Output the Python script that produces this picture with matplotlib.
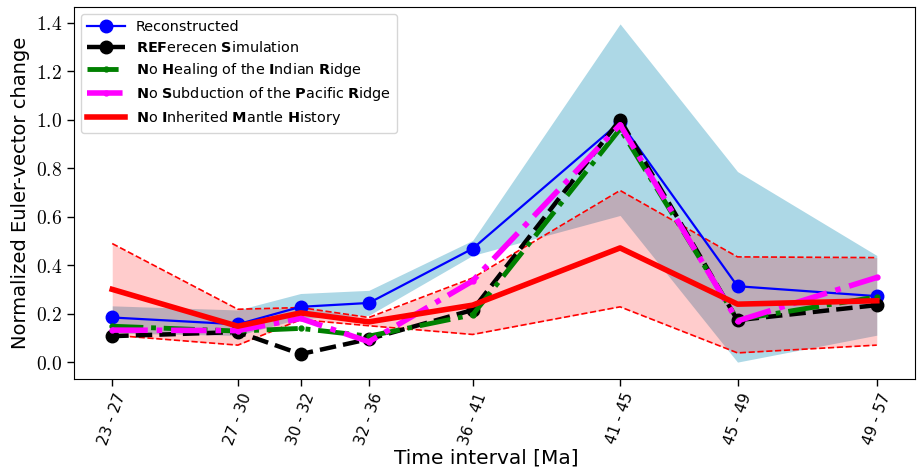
import matplotlib
matplotlib.use('Agg')
import matplotlib.pyplot as plt
from matplotlib.font_manager import FontProperties
from matplotlib.ticker import FuncFormatter

# time intervals and their positions on the time axis
intervals = ['23 - 27', '27 - 30', '30 - 32', '32 - 36', '36 - 41', '41 - 45', '45 - 49', '49 - 57']
t_mid = [25.0, 29.6, 31.9, 34.4, 38.2, 43.6, 47.9, 53.0]

recon = [0.184, 0.156, 0.228, 0.244, 0.468, 0.99, 0.313, 0.272]
recon_lo = [0.12, 0.11, 0.18, 0.193, 0.44, 0.605, 0.0, 0.111]
recon_hi = [0.232, 0.215, 0.283, 0.296, 0.502, 1.395, 0.786, 0.44]

ref_sim = [0.107, 0.124, 0.033, 0.095, 0.215, 1.0, 0.173, 0.235]
no_heal = [0.148, 0.128, 0.139, 0.107, 0.195, 0.962, 0.175, 0.269]
no_subd = [0.132, 0.13, 0.18, 0.084, 0.335, 0.979, 0.17, 0.349]

no_mantle = [0.30, 0.148, 0.203, 0.166, 0.235, 0.471, 0.239, 0.253]
mantle_lo = [0.111, 0.07, 0.175, 0.15, 0.114, 0.228, 0.038, 0.07]
mantle_hi = [0.489, 0.218, 0.225, 0.184, 0.347, 0.708, 0.434, 0.431]

plt.rcParams['mathtext.fontset'] = 'cm'

fig = plt.figure(figsize=(9.17, 4.74), dpi=100)
ax = fig.add_axes([0.0807, 0.2004, 0.9171, 0.7848])

ax.fill_between(t_mid, recon_lo, recon_hi, color='lightblue', lw=0)
ax.fill_between(t_mid, mantle_lo, mantle_hi, color='red', alpha=0.2, lw=0)
ax.plot(t_mid, mantle_lo, '--', color='red', lw=1.2)
ax.plot(t_mid, mantle_hi, '--', color='red', lw=1.2)

ax.plot(t_mid, recon, '-o', color='blue', lw=1.6, ms=9,
        label='Reconstructed')
ax.plot(t_mid, ref_sim, '--o', color='black', lw=3.2, ms=9,
        label=r'$\mathbf{REF}$erecen $\mathbf{S}$imulation')
ax.plot(t_mid, no_heal, '-.', marker='.', color='green', lw=3.5, ms=7,
        label=r'$\mathbf{N}$o $\mathbf{H}$ealing of the $\mathbf{I}$ndian $\mathbf{R}$idge')
ax.plot(t_mid, no_subd, '-.', marker='.', color='magenta', lw=4, ms=7,
        label=r'$\mathbf{N}$o $\mathbf{S}$ubduction of the $\mathbf{P}$acific $\mathbf{R}$idge')
ax.plot(t_mid, no_mantle, '-', color='red', lw=4,
        label=r'$\mathbf{N}$o $\mathbf{I}$nherited $\mathbf{M}$antle $\mathbf{H}$istory')

ax.set_xticks(t_mid)
ax.set_xticklabels(intervals, rotation=70, fontsize=11, family='DejaVu Sans')
ax.yaxis.set_major_formatter(FuncFormatter(lambda v, p: f'${v:.1f}$'))
ax.tick_params(axis='y', labelsize=14)
ax.tick_params(length=5, width=1)

ax.set_xlabel('Time interval [Ma]', fontsize=14.5, family='DejaVu Sans')
ax.xaxis.set_label_coords(0.49, -0.188)
ax.set_ylabel('Normalized Euler-vector change', fontsize=14)

legend_font = FontProperties(family='DejaVu Sans', size=10.4, math_fontfamily='dejavusans')
ax.legend(loc='upper left', prop=legend_font, handlelength=2.6, labelspacing=0.42)

fig.savefig('out.png', dpi=100)
